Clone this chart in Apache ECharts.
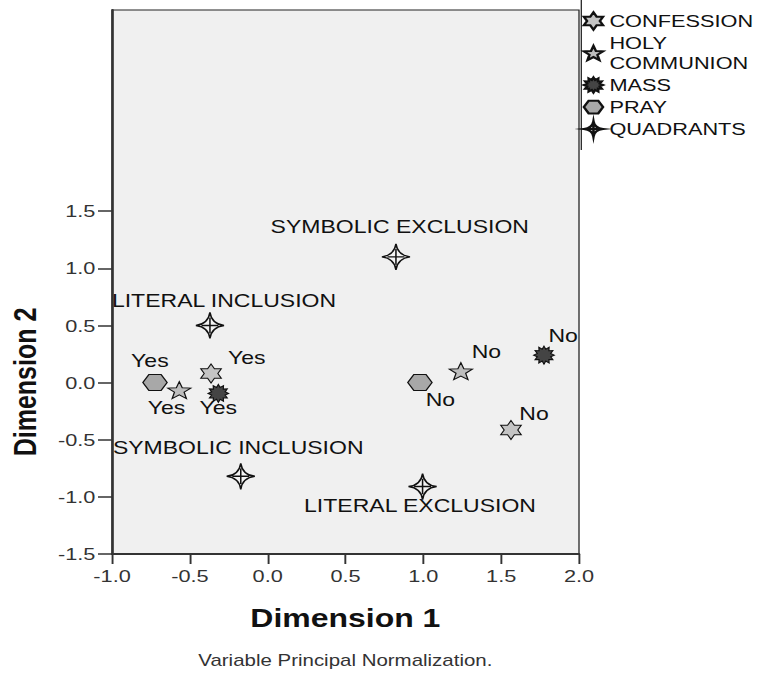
<!DOCTYPE html>
<html>
<head>
<meta charset="utf-8">
<script src="https://cdn.jsdelivr.net/npm/echarts@6/dist/echarts.min.js"></script>
<style>
  html, body { margin: 0; padding: 0; background: #fff; }
  #wrap { width: 761px; height: 677px; overflow: hidden; }
  #c { width: 595px; height: 677px; transform: scaleX(1.279); transform-origin: 0 0; }
</style>
</head>
<body>
<div id="wrap"><div id="c"></div></div>
<script>
// ---- data ----
const categories = ['Yes', 'No'];
const confessionX = [-0.364, 1.563];
const confessionY = [0.08, -0.415];
const holyX = [-0.568, 1.241];
const holyY = [-0.066, 0.10];
const massX = [-0.317, 1.775];
const massY = [-0.095, 0.24];
const prayX = [-0.724, 0.978];
const prayY = [0.0, 0.0];
const quadrantNames = ['SYMBOLIC EXCLUSION', 'LITERAL INCLUSION', 'SYMBOLIC INCLUSION', 'LITERAL EXCLUSION'];
const quadrantX = [0.824, -0.371, -0.173, 0.995];
const quadrantY = [1.10, 0.50, -0.82, -0.91];
const xTicks = [-1.0, -0.5, 0.0, 0.5, 1.0, 1.5, 2.0];
const yTicks = [-1.5, -1.0, -0.5, 0.0, 0.5, 1.0, 1.5];
const seriesNames = ['CONFESSION', 'HOLY COMMUNION', 'MASS', 'PRAY', 'QUADRANTS'];

// ---- label offsets (style) ----
const confessionOff = [[28, -16], [18, -17]];
const holyOff = [[-10, 17], [20, -20]];
const massOff = [[0, 14], [15, -20]];
const prayOff = [[-4, -22], [16, 17]];
const quadrantOff = [[3, -30], [11, -25], [-2, -29], [-2, 19]];

function starPath(n, R, r) {
  let s = '';
  for (let i = 0; i < 2 * n; i++) {
    const a = -Math.PI / 2 + i * Math.PI / n;
    const rad = i % 2 ? r : R;
    s += (i ? 'L' : 'M') + (10 + rad * Math.cos(a)).toFixed(2) + ',' + (10 + rad * Math.sin(a)).toFixed(2);
  }
  return 'path://' + s + 'Z';
}
const symConf = starPath(6, 10, 5.77);
const symHoly = starPath(5, 10, 4.2);
const symMass = starPath(12, 10, 6.8);
const symPray = 'path://M0,10L5,1.5L15,1.5L20,10L15,18.5L5,18.5Z';
const symQuad = 'path://M10,0Q11.2,8.8,20,10Q11.2,11.2,10,20Q8.8,11.2,0,10Q8.8,8.8,10,0ZM10,4L10,16M4,10L16,10';

const FONT = 'Liberation Sans, Arial, sans-serif';

function build(xs, ys, names, offs) {
  return xs.map((x, i) => ({
    value: [x, ys[i]],
    name: names[i],
    label: { offset: offs[i] }
  }));
}

const baseLabel = {
  show: true, position: 'inside', formatter: p => p.name,
  color: '#111', fontSize: 18, fontFamily: FONT
};

const chart = echarts.init(document.getElementById('c'), null, { renderer: 'svg' });
chart.setOption({
  animation: false,
  backgroundColor: '#fff',
  grid: {
    left: 87.6, right: 142.3, top: 10, bottom: 123,
    show: true, backgroundColor: '#f0f0f0', borderColor: '#222', borderWidth: 1
  },
  xAxis: {
    type: 'value', min: -1, max: 2, interval: 0.5,
    axisLine: { onZero: false, lineStyle: { color: '#333', width: 2 } },
    axisTick: { length: 10, lineStyle: { color: '#333', width: 1.5 } },
    axisLabel: { formatter: v => v.toFixed(1), fontSize: 17, color: '#333', fontFamily: FONT, margin: 13 },
    splitLine: { show: false }
  },
  yAxis: {
    type: 'value', min: -1.5, max: 3.26,
    axisLine: { onZero: false, lineStyle: { color: '#333', width: 2 } },
    axisTick: { length: 11, customValues: yTicks, lineStyle: { color: '#333', width: 1.5 } },
    axisLabel: { customValues: yTicks, formatter: v => Number(v).toFixed(1), fontSize: 17, color: '#333', fontFamily: FONT, margin: 13 },
    splitLine: { show: false }
  },
  legend: {
    orient: 'vertical', left: 455.5, top: 11, padding: 0, itemGap: 2,
    itemWidth: 15, itemHeight: 18,
    textStyle: { fontSize: 17, color: '#111', fontFamily: FONT, lineHeight: 20 },
    formatter: n => n === 'HOLY COMMUNION' ? 'HOLY\nCOMMUNION' : n,
    data: [
      { name: seriesNames[0], icon: symConf },
      { name: seriesNames[1], icon: symHoly },
      { name: seriesNames[2], icon: symMass },
      { name: seriesNames[3], icon: symPray },
      { name: seriesNames[4], icon: symQuad }
    ]
  },
  graphic: [
    { type: 'text', x: 270, y: 618, style: { text: 'Dimension 1', fontSize: 25, fontWeight: 'bold', fontFamily: FONT, fill: '#111', align: 'center', verticalAlign: 'middle' } },
    { type: 'text', x: 19.5, y: 382, rotation: Math.PI / 2, style: { text: 'Dimension 2', fontSize: 25, fontWeight: 'bold', fontFamily: FONT, fill: '#111', align: 'center', verticalAlign: 'middle' } },
    { type: 'text', x: 270, y: 660, style: { text: 'Variable Principal Normalization.', fontSize: 16, fontFamily: FONT, fill: '#333', align: 'center', verticalAlign: 'middle' } },
    { type: 'line', shape: { x1: 454.5, y1: 0, x2: 454.5, y2: 150 }, style: { stroke: '#222', lineWidth: 1 } }
  ],
  series: [
    {
      name: seriesNames[0], type: 'scatter', symbol: symConf, symbolSize: [16, 19],
      itemStyle: { color: '#c4c4c4', borderColor: '#111', borderWidth: 1, opacity: 1 },
      label: baseLabel,
      data: build(confessionX, confessionY, categories, confessionOff)
    },
    {
      name: seriesNames[1], type: 'scatter', symbol: symHoly, symbolSize: [18, 17],
      itemStyle: { color: '#bdbdbd', borderColor: '#111', borderWidth: 1, opacity: 1 },
      label: baseLabel,
      data: build(holyX, holyY, categories, holyOff)
    },
    {
      name: seriesNames[2], type: 'scatter', symbol: symMass, symbolSize: [16, 18],
      itemStyle: { color: '#444', borderColor: '#111', borderWidth: 1, opacity: 1 },
      label: baseLabel,
      data: build(massX, massY, categories, massOff)
    },
    {
      name: seriesNames[3], type: 'scatter', symbol: symPray, symbolSize: [19, 16],
      itemStyle: { color: '#a8a8a8', borderColor: '#111', borderWidth: 1, opacity: 1 },
      label: baseLabel,
      data: build(prayX, prayY, categories, prayOff)
    },
    {
      name: seriesNames[4], type: 'scatter', symbol: symQuad, symbolSize: [22, 26],
      itemStyle: { color: '#f4f4f4', borderColor: '#111', borderWidth: 1.3, opacity: 1 },
      label: baseLabel,
      data: build(quadrantX, quadrantY, quadrantNames, quadrantOff)
    }
  ]
});
</script>
</body>
</html>
